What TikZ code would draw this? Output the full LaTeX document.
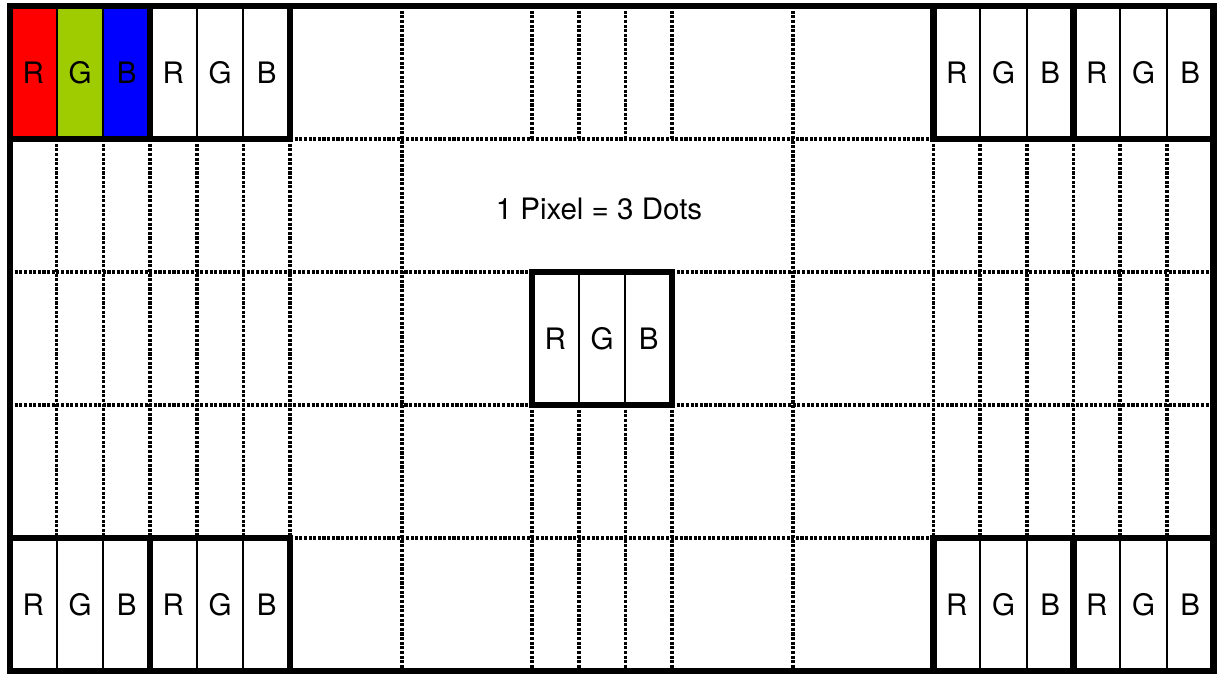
\documentclass[tikz,border=0pt]{standalone}
\usepackage{fontspec}
\setmainfont{TeX Gyre Heros}
\usepackage{xcolor}
\usetikzlibrary{positioning}
\definecolor{dotred}{RGB}{255,0,0}
\definecolor{dotgreen}{RGB}{158,204,0}
\definecolor{dotblue}{RGB}{0,0,255}

% one pixel = three dots: name, left x, centre y, fills
\newcommand{\rgbpixel}[6]{%
  \node[dotcell, fill=#4] (#1r) at (#2+23.33,#3) {R};
  \node[dotcell, fill=#5, right=0pt of #1r] (#1g) {G};
  \node[dotcell, fill=#6, right=0pt of #1g] (#1b) {B};
  \draw[frame] (#1r.north west) rectangle (#1b.south east);
}

\begin{document}
\begin{tikzpicture}[
  x=0.025cm, y=-0.025cm,
  every node/.style={font=\fontsize{21}{25}\selectfont},
  dotcell/.style={draw, line width=1.4pt, inner sep=0pt, outer sep=0pt,
    minimum width=1.1667cm, minimum height=3.325cm, text height=15pt, text depth=-2pt},
  frame/.style={line width=4.3pt},
  grid/.style={line width=2.6pt, dash pattern=on 2.2pt off 1.1pt}
]
  \useasboundingbox (0,0) rectangle (1223,676);
  \def\rowA{72.5}\def\rowB{338.5}\def\rowC{604.5}

  % dotted grid, rows
  \draw[grid] (290,139) -- (933.5,139);
  \draw[grid] (290,538) -- (933.5,538);
  \draw[grid] (10,272) -- (532,272) (672,272) -- (1213.5,272);
  \draw[grid] (10,405) -- (532,405) (672,405) -- (1213.5,405);

  % dotted grid, columns
  \foreach \x in {402,793}
    \draw[grid] (\x,6) -- (\x,671);
  \foreach \x in {532,578.67,625.33,672} {
    \draw[grid] (\x,6) -- (\x,139);
    \draw[grid] (\x,405) -- (\x,671);
  }
  \foreach \x in {56.67,103.33,150,196.67,243.33,290,
                  933.5,980.17,1026.83,1073.5,1120.17,1166.83}
    \draw[grid] (\x,139) -- (\x,538);

  % corner pixels
  \rgbpixel{tla}{10}{\rowA}{dotred}{dotgreen}{dotblue}
  \rgbpixel{tlb}{150}{\rowA}{white}{white}{white}
  \rgbpixel{tra}{933.5}{\rowA}{white}{white}{white}
  \rgbpixel{trb}{1073.5}{\rowA}{white}{white}{white}
  \rgbpixel{bla}{10}{\rowC}{white}{white}{white}
  \rgbpixel{blb}{150}{\rowC}{white}{white}{white}
  \rgbpixel{bra}{933.5}{\rowC}{white}{white}{white}
  \rgbpixel{brb}{1073.5}{\rowC}{white}{white}{white}

  % centre pixel
  \rgbpixel{mid}{532}{\rowB}{white}{white}{white}

  \node (caption) at (599,209) {1 Pixel = 3 Dots};

  % outer border
  \draw[frame] (10,6) rectangle (1213.5,671);
\end{tikzpicture}
\end{document}
